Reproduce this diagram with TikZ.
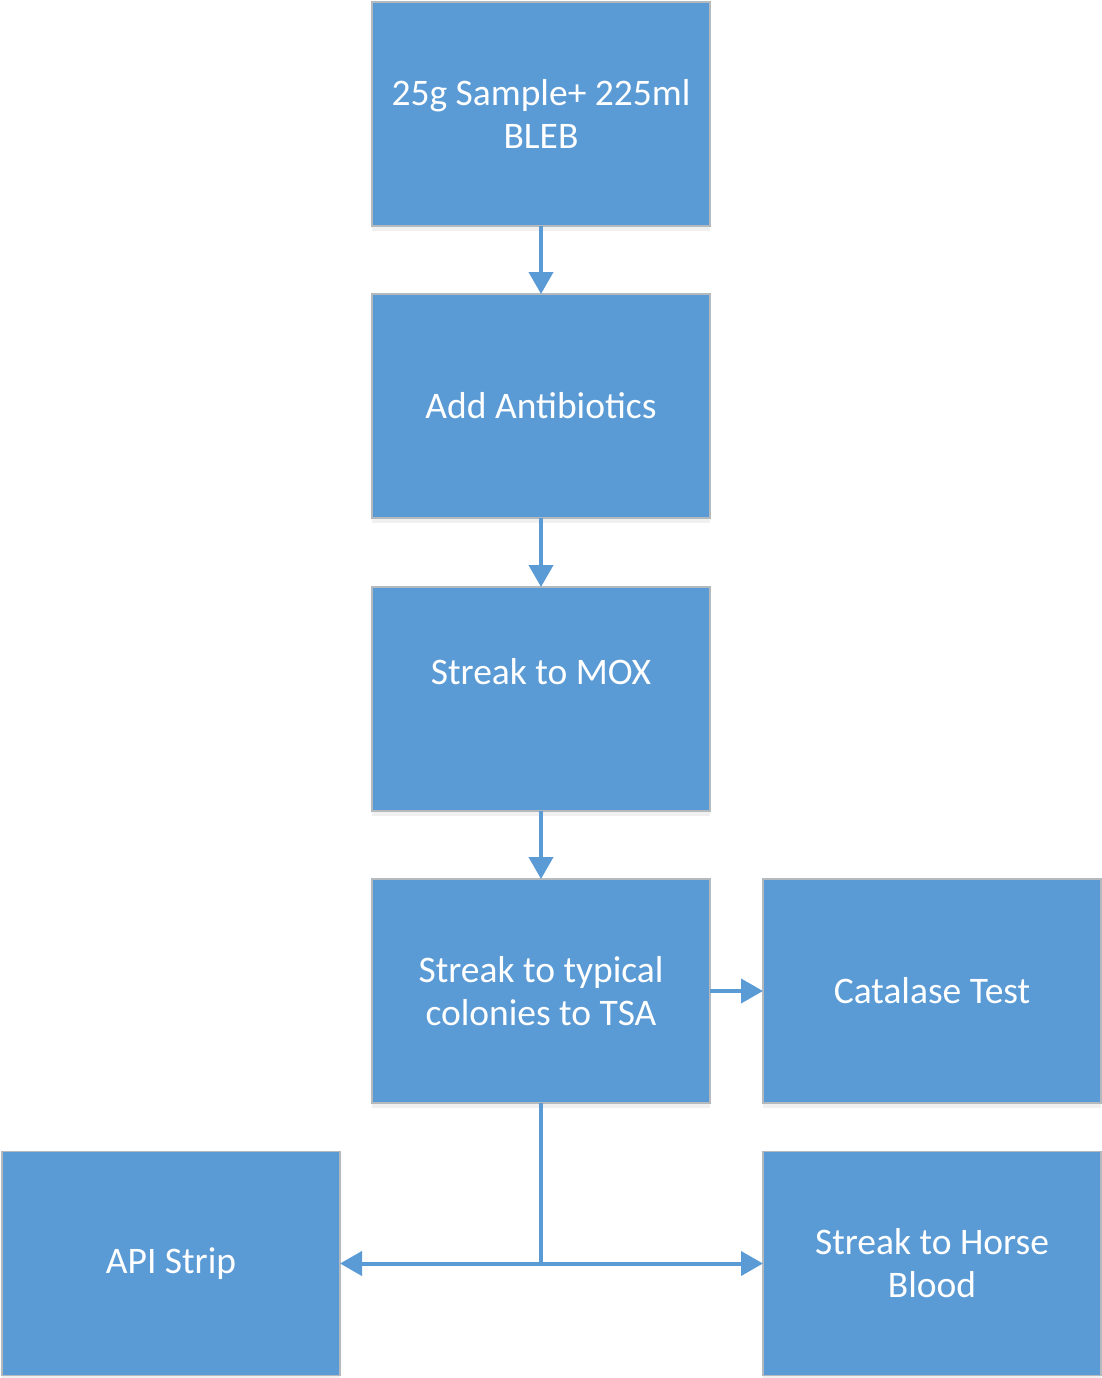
\documentclass[tikz,border=0pt]{standalone}
\usepackage{fontspec}
\setmainfont{Carlito}
\usetikzlibrary{shapes, arrows.meta, positioning, shadows}
\definecolor{boxblue}{HTML}{5B9BD5}
\definecolor{boxedge}{HTML}{B4B9BE}

\begin{document}
\begin{tikzpicture}[x=1pt, y=-1pt, >=stealth,
every step/.style={
rectangle,
draw=boxedge,
line width=1.2pt,
outer sep=0pt,
fill=boxblue,
minimum width=338pt,
minimum height=224pt,
text=white,
align=center,
font=\fontsize{37.5}{43}\selectfont,
drop shadow={opacity=0.12, shadow xshift=0pt, shadow yshift=-5pt}
},
flow/.style={
draw=boxblue,
line width=4pt,
-{Triangle[width=24pt,length=22pt]}
}
]

\useasboundingbox (0,0) rectangle (1101,1378);

\node[every step] (s1) at (541,114) {25g Sample+ 225ml\\BLEB};
\node[every step] (s2) [below=68pt of s1] {Add Antibiotics};
\node[every step] (s3) [below=69pt of s2] {Streak to MOX\\ \strut};
\node[every step] (s4) [below=68pt of s3] {Streak to typical\\colonies to TSA};

\node[every step] (cat) [right=53pt of s4] {Catalase Test};
\node[every step] (api) at (171,1263.5) {API Strip};
\node[every step] (horse) at (932,1263.5) {Streak to Horse\\Blood};

\draw[flow] (s1) -- (s2);
\draw[flow] (s2) -- (s3);
\draw[flow] (s3) -- (s4);
\draw[flow] (s4) -- (cat);

\draw[flow] (s4.south) |- (api.east);
\draw[flow] (s4.south) |- (horse.west);

\end{tikzpicture}
\end{document}
